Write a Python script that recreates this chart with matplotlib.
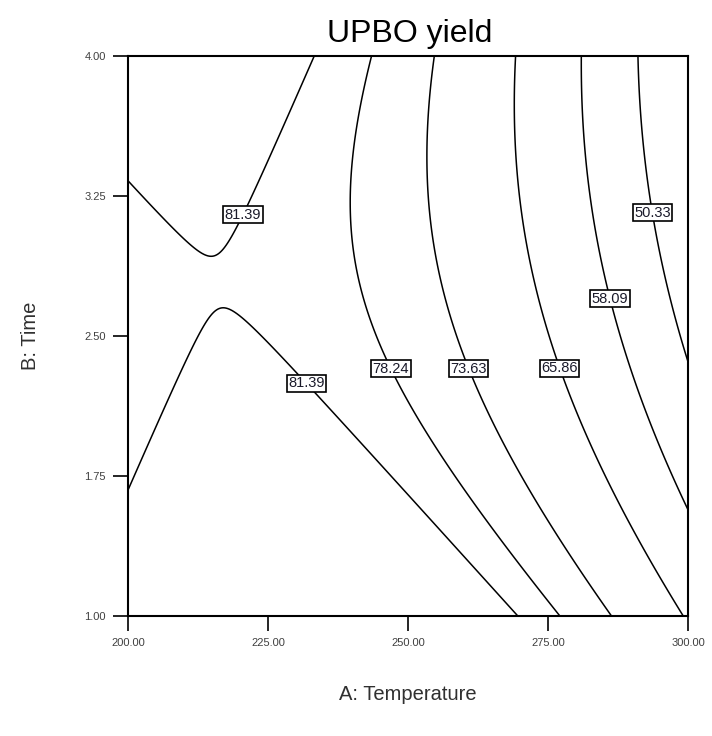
import numpy as np
import matplotlib.pyplot as plt

plt.rcParams['font.family'] = ['Liberation Sans', 'DejaVu Sans']

# quadratic response model for UPBO yield, coded factors
# x1 = (A - 250) / 50, x2 = (B - 2.5) / 1.5
b0 = 76.66
b_lin = [-15.35, -5.67]        # A, B
b_int = -5.65                  # AB
b_sq = [-12.06, 4.72]          # A^2, B^2

temp_range = [200, 300]
time_range = [1.0, 4.0]
levels = [50.33, 58.09, 65.86, 73.63, 78.24, 81.39]

xticks = [200, 225, 250, 275, 300]
yticks = [1.00, 1.75, 2.50, 3.25, 4.00]

# where the value boxes sit along the lines (A, B)
label_pos = [(219.8, 3.16), (232.3, 2.26), (247.3, 2.33), (261.3, 2.33),
             (277.3, 2.33), (286.1, 2.70), (293.4, 3.16)]


def upbo_yield(a, b):
    x1 = (a - 250) / 50
    x2 = (b - 2.5) / 1.5
    return (b0 + b_lin[0] * x1 + b_lin[1] * x2 + b_int * x1 * x2
            + b_sq[0] * x1 ** 2 + b_sq[1] * x2 ** 2)


fig = plt.figure(figsize=(7.12, 7.36), dpi=100)
ax = fig.add_axes([128 / 712, 120 / 736, 560 / 712, 560 / 736])

a = np.linspace(temp_range[0], temp_range[1], 400)
b = np.linspace(time_range[0], time_range[1], 400)
A, B = np.meshgrid(a, b)
Z = upbo_yield(A, B)

cs = ax.contour(A, B, Z, levels=levels, colors='black', linewidths=1.1)
texts = ax.clabel(cs, fmt='%.2f', inline=False, manual=label_pos, fontsize=10.5)
for t in texts:
    t.set_rotation(0)
    t.set_color('#1a1a2a')
    t.set_zorder(5)
    t.set_bbox(dict(boxstyle='square,pad=0.1', fc='white', ec='black', lw=1.2))

ax.set_xlim(temp_range)
ax.set_ylim(time_range)
ax.set_xticks(xticks)
ax.set_yticks(yticks)
ax.set_xticklabels([f'{v:.2f}' for v in xticks])
ax.set_yticklabels([f'{v:.2f}' for v in yticks])
ax.tick_params(direction='out', length=11, width=1.2, labelsize=8,
               labelcolor='#404040', pad=5)
for s in ax.spines.values():
    s.set_linewidth(1.5)

fig.text(410 / 712, 1 - 42 / 736, 'UPBO yield', fontsize=23,
         ha='center', va='baseline')
fig.text(408 / 712, 1 - 695 / 736, 'A: Temperature', fontsize=14.5,
         ha='center', va='center', color='#303030')
fig.text(30 / 712, 1 - 336 / 736, 'B: Time', fontsize=14.5, rotation=90,
         ha='center', va='center', color='#303030')

fig.savefig('out.png')
